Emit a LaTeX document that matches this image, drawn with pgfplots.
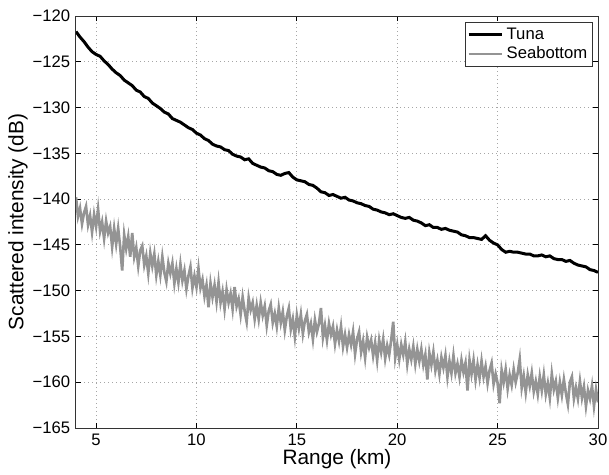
\documentclass[border=0pt]{standalone}
\usepackage{pgfplots}
\pgfplotsset{compat=1.18}
\usepackage{fontspec}
\setmainfont{Liberation Sans}
\usetikzlibrary{calc}
\definecolor{seagray}{RGB}{148,148,148}
\begin{document}
\begin{tikzpicture}
\begin{axis}[
  scale only axis,
  width=313.2pt, height=247.2pt,
  xmin=4, xmax=30, ymin=-165, ymax=-120,
  xtick={5,10,15,20,25,30},
  ytick={-165,-160,-155,-150,-145,-140,-135,-130,-125,-120},
  yticklabels={−165,−160,−155,−150,−145,−140,−135,−130,−125,−120},
  /pgf/number format/assume math mode=true,
  tick align=inside,
  major tick length=3pt,
  tick style={black, line width=0.5pt},
  axis line style={black!80, line width=0.6pt},
  grid=major,
  major grid style={dotted, gray!70, line width=0.5pt},
  tick label style={font=\fontsize{10}{12}\selectfont},
  label style={font=\fontsize{12.5}{14}\selectfont},
  xlabel={Range (km)},
  ylabel={Scattered intensity (dB)},
  xlabel style={yshift=4.5pt},
  ylabel style={yshift=-4pt},
  legend style={at={(0.99,0.985)}, anchor=north east, font=\fontsize{10}{12}\selectfont,
    draw=black!80, line width=0.6pt, inner sep=1pt, row sep=-1pt, cells={anchor=west}},
  legend image code/.code={\draw[#1] (0pt,0pt) -- (20pt,0pt);},
]
\addplot[black, line width=1.8pt] coordinates {
(4.0,-121.7)(4.2,-122.3)(4.4,-122.8)(4.6,-123.4)(4.8,-123.9)(5.0,-124.2)(5.2,-124.4)(5.4,-124.9)(5.6,-125.3)(5.8,-125.8)
(6.0,-126.2)(6.2,-126.5)(6.4,-127.0)(6.6,-127.3)(6.8,-127.6)(7.0,-128.1)(7.2,-128.3)(7.4,-128.8)(7.6,-129.0)(7.8,-129.5)
(8.0,-129.8)(8.2,-130.1)(8.4,-130.5)(8.6,-130.7)(8.8,-131.2)(9.0,-131.4)(9.2,-131.6)(9.4,-131.9)(9.6,-132.2)(9.8,-132.4)
(10.0,-132.8)(10.2,-133.0)(10.4,-133.4)(10.6,-133.6)(10.8,-134.0)(11.0,-134.2)(11.2,-134.3)(11.4,-134.6)(11.6,-134.7)(11.8,-135.1)
(12.0,-135.3)(12.2,-135.4)(12.4,-135.7)(12.6,-135.6)(12.8,-136.1)(13.0,-136.3)(13.2,-136.5)(13.4,-136.6)(13.6,-136.9)(13.8,-137.0)
(14.0,-137.3)(14.2,-137.4)(14.4,-137.2)(14.6,-137.1)(14.8,-137.6)(15.0,-137.9)(15.2,-138.0)(15.4,-138.1)(15.6,-138.4)(15.8,-138.5)
(16.0,-138.8)(16.2,-139.2)(16.4,-139.3)(16.6,-139.6)(16.8,-139.5)(17.0,-139.7)(17.2,-139.9)(17.4,-139.8)(17.6,-140.1)(17.8,-140.2)
(18.0,-140.4)(18.2,-140.5)(18.4,-140.7)(18.6,-140.8)(18.8,-141.1)(19.0,-141.2)(19.2,-141.4)(19.4,-141.5)(19.6,-141.7)(19.8,-141.6)
(20.0,-141.8)(20.2,-142.0)(20.4,-142.1)(20.6,-142.0)(20.8,-142.3)(21.0,-142.4)(21.2,-142.6)(21.4,-142.9)(21.6,-142.8)(21.8,-143.1)
(22.0,-143.1)(22.2,-143.3)(22.4,-143.2)(22.6,-143.4)(22.8,-143.5)(23.0,-143.6)(23.2,-143.9)(23.4,-144.0)(23.6,-144.2)(23.8,-144.2)
(24.0,-144.3)(24.2,-144.4)(24.4,-144.0)(24.6,-144.5)(24.8,-144.8)(25.0,-145.0)(25.2,-145.5)(25.4,-145.8)(25.6,-145.7)(25.8,-145.8)
(26.0,-145.8)(26.2,-145.9)(26.4,-146.0)(26.6,-146.0)(26.8,-146.2)(27.0,-146.2)(27.2,-146.1)(27.4,-146.3)(27.6,-146.2)(27.8,-146.5)
(28.0,-146.6)(28.2,-146.6)(28.4,-146.8)(28.6,-146.7)(28.8,-147.0)(29.0,-147.2)(29.2,-147.3)(29.4,-147.4)(29.6,-147.7)(29.8,-147.8)
(30.0,-148.0)
};
\addlegendentry{Tuna}
\addplot[seagray, line width=1.6pt] coordinates {
(4.0,-139.8)(4.1,-141.9)(4.2,-141.0)(4.3,-142.7)(4.4,-141.5)(4.5,-140.8)(4.6,-142.8)(4.7,-141.8)(4.8,-143.6)(4.9,-141.7)
(5.0,-143.0)(5.1,-141.1)(5.2,-143.5)(5.3,-142.5)(5.4,-144.3)(5.5,-142.4)(5.6,-143.7)(5.7,-143.0)(5.8,-145.2)(5.9,-143.2)
(6.0,-144.9)(6.1,-143.2)(6.2,-145.2)(6.3,-147.8)(6.4,-143.9)(6.5,-145.4)(6.6,-144.1)(6.7,-146.3)(6.8,-143.7)(6.9,-146.3)
(7.0,-145.3)(7.1,-147.3)(7.2,-145.6)(7.3,-145.1)(7.4,-147.2)(7.5,-146.2)(7.6,-148.1)(7.7,-145.9)(7.8,-147.3)(7.9,-146.0)
(8.0,-148.3)(8.1,-146.8)(8.2,-148.3)(8.3,-146.3)(8.4,-148.0)(8.5,-149.0)(8.6,-147.0)(8.7,-148.1)(8.8,-147.0)(8.9,-149.2)
(9.0,-147.6)(9.1,-149.1)(9.2,-147.1)(9.3,-148.9)(9.4,-147.8)(9.5,-149.8)(9.6,-148.4)(9.7,-147.4)(9.8,-149.7)(9.9,-148.4)
(10.0,-149.6)(10.1,-147.6)(10.2,-149.7)(10.3,-148.8)(10.4,-150.6)(10.5,-149.4)(10.6,-151.8)(10.7,-149.2)(10.8,-150.7)(10.9,-149.4)
(11.0,-151.2)(11.1,-149.1)(11.2,-151.3)(11.3,-150.1)(11.4,-152.0)(11.5,-149.9)(11.6,-151.3)(11.7,-150.3)(11.8,-152.0)(11.9,-149.6)
(12.0,-151.7)(12.1,-150.9)(12.2,-152.6)(12.3,-150.7)(12.4,-152.2)(12.5,-153.4)(12.6,-150.8)(12.7,-152.1)(12.8,-151.3)(12.9,-153.1)
(13.0,-151.6)(13.1,-153.1)(13.2,-151.3)(13.3,-152.7)(13.4,-151.7)(13.5,-153.8)(13.6,-152.2)(13.7,-151.5)(13.8,-153.5)(13.9,-152.5)
(14.0,-153.9)(14.1,-151.9)(14.2,-153.5)(14.3,-152.3)(14.4,-154.3)(14.5,-152.8)(14.6,-151.9)(14.7,-154.2)(14.8,-153.1)(14.9,-155.0)
(15.0,-152.7)(15.1,-154.1)(15.2,-152.6)(15.3,-154.7)(15.4,-153.3)(15.5,-152.6)(15.6,-154.5)(15.7,-153.6)(15.8,-155.3)(15.9,-153.2)
(16.0,-154.5)(16.1,-153.6)(16.2,-151.9)(16.3,-155.1)(16.4,-153.8)(16.5,-155.4)(16.6,-153.6)(16.7,-154.8)(16.8,-153.9)(16.9,-155.8)
(17.0,-154.3)(17.1,-155.5)(17.2,-153.9)(17.3,-156.1)(17.4,-154.8)(17.5,-156.2)(17.6,-154.8)(17.7,-155.9)(17.8,-154.5)(17.9,-156.9)
(18.0,-155.3)(18.1,-154.5)(18.2,-156.7)(18.3,-155.5)(18.4,-157.3)(18.5,-155.1)(18.6,-156.2)(18.7,-155.4)(18.8,-157.1)(18.9,-155.7)
(19.0,-157.6)(19.1,-155.4)(19.2,-156.7)(19.3,-155.3)(19.4,-157.4)(19.5,-156.0)(19.6,-157.0)(19.7,-155.4)(19.8,-153.4)(19.9,-157.3)
(20.0,-155.9)(20.1,-157.5)(20.2,-155.9)(20.3,-157.0)(20.4,-155.6)(20.5,-158.0)(20.6,-156.4)(20.7,-157.5)(20.8,-156.1)(20.9,-158.0)
(21.0,-156.4)(21.1,-157.7)(21.2,-156.4)(21.3,-158.1)(21.4,-157.0)(21.5,-159.7)(21.6,-156.8)(21.7,-158.1)(21.8,-156.7)(21.9,-158.7)
(22.0,-157.6)(22.1,-159.1)(22.2,-157.3)(22.3,-158.4)(22.4,-157.1)(22.5,-159.4)(22.6,-157.7)(22.7,-159.0)(22.8,-157.1)(22.9,-159.0)
(23.0,-158.0)(23.1,-159.4)(23.2,-157.6)(23.3,-158.9)(23.4,-157.9)(23.5,-160.9)(23.6,-157.6)(23.7,-159.1)(23.8,-157.6)(23.9,-159.7)
(24.0,-158.1)(24.1,-159.5)(24.2,-157.7)(24.3,-159.4)(24.4,-158.3)(24.5,-160.1)(24.6,-158.7)(24.7,-157.9)(24.8,-160.2)(24.9,-159.1)
(25.0,-160.1)(25.1,-162.3)(25.2,-158.7)(25.3,-160.0)(25.4,-158.6)(25.5,-160.7)(25.6,-159.2)(25.7,-160.3)(25.8,-158.6)(25.9,-160.0)
(26.0,-159.0)(26.1,-157.5)(26.2,-160.6)(26.3,-159.3)(26.4,-161.1)(26.5,-159.2)(26.6,-160.4)(26.7,-159.0)(26.8,-161.0)(26.9,-159.9)
(27.0,-161.3)(27.1,-159.4)(27.2,-160.9)(27.3,-159.2)(27.4,-161.3)(27.5,-160.1)(27.6,-161.7)(27.7,-159.1)(27.8,-160.8)(27.9,-159.9)
(28.0,-161.7)(28.1,-160.0)(28.2,-161.4)(28.3,-159.7)(28.4,-161.2)(28.5,-162.4)(28.6,-160.0)(28.7,-159.4)(28.8,-161.8)(28.9,-160.6)
(29.0,-161.8)(29.1,-159.9)(29.2,-161.7)(29.3,-160.5)(29.4,-162.6)(29.5,-160.9)(29.6,-161.8)(29.7,-160.4)(29.8,-162.6)(29.9,-160.8)
(30.0,-162.2)
};
\addlegendentry{Seabottom}
\end{axis}
\pgfresetboundingbox
\path ($(current axis.south west)+(-45.6pt,-27.6pt)$) rectangle ($(current axis.north east)+(6.6pt,9.6pt)$);
\end{tikzpicture}
\end{document}
